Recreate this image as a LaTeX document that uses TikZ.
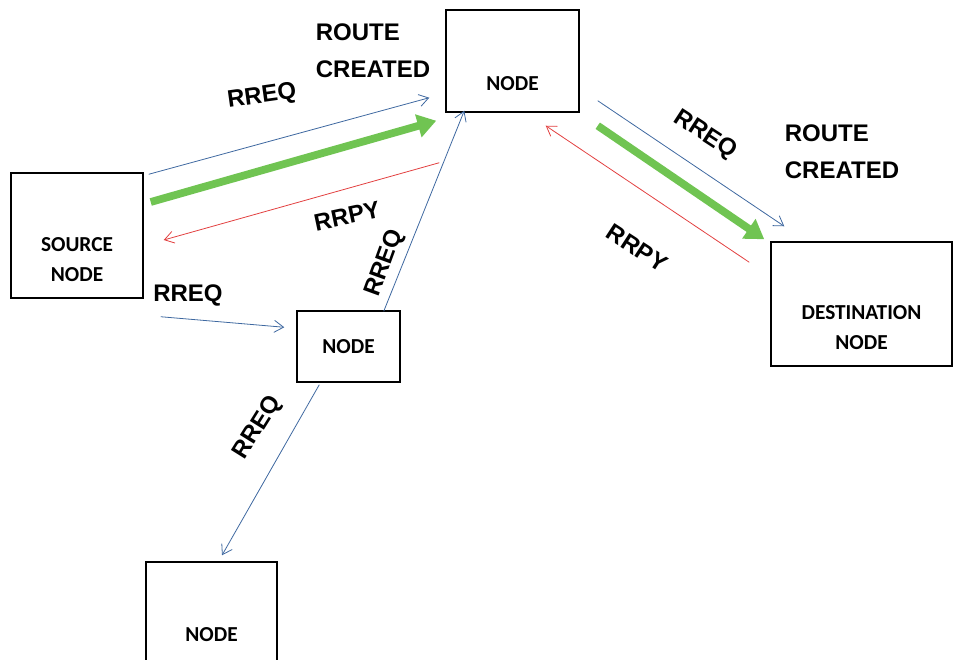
\documentclass[tikz,border=0pt]{standalone}
\usepackage{fontspec}
\setmainfont{Liberation Sans}
\newfontfamily\boxfont{Carlito}
\usetikzlibrary{arrows.meta,calc}

\definecolor{reqblue}{RGB}{62,104,160}
\definecolor{rpyred}{RGB}{226,64,64}
\definecolor{routegreen}{RGB}{112,196,82}

\tikzset{
    box/.style={draw, line width=1.1pt, inner sep=0pt},
    boxtext/.style={font=\boxfont\bfseries\fontsize{16}{22.5}\selectfont, align=center},
    msg/.style={font=\bfseries\fontsize{18}{27.75}\selectfont, align=left, inner sep=0pt},
    req/.style={draw=reqblue, line width=0.6pt, -{Straight Barb[length=7pt,width=9pt]}},
    rpy/.style={draw=rpyred, line width=0.6pt, -{Straight Barb[length=7pt,width=9pt]}},
    route/.style={draw=routegreen, line width=5.8pt, -{Triangle[length=14pt,width=17pt]}}
}

\begin{document}
\begin{tikzpicture}[x=0.75pt, y=-0.75pt]
    \useasboundingbox (0,0) rectangle (954,660);

    \node[box, minimum width=99pt, minimum height=93.75pt,
	label={[boxtext, yshift=-18pt]center:SOURCE\\NODE}] (src) at (77,235.5) {};
    \node[box, minimum width=99.75pt, minimum height=76.5pt,
	label={[boxtext, yshift=-17pt]center:NODE}] (top) at (512.5,61) {};
    \node[box, minimum width=77.25pt, minimum height=53.25pt,
	label={[boxtext]center:NODE}] (mid) at (348.5,346.5) {};
    \node[box, minimum width=135.75pt, minimum height=93pt,
	label={[boxtext, yshift=-18pt]center:DESTINATION\\NODE}] (dst) at (861.5,304) {};
    \node[box, minimum width=98.25pt, minimum height=82.5pt,
	label={[boxtext, yshift=-13pt]center:NODE}] (bot) at (211.5,617) {};

    \draw[req] ($(src.north east)+(5,2)$) -- ($(top.south west)+(-16,-15)$);
    \draw[route] ($(src.east)+(7,-33.5)$) -- ($(top.south west)+(-9,8)$);
    \draw[rpy] ($(top.south west)+(-6,50)$) -- ($(src.east)+(20,4.5)$);
    \draw[req] ($(src.south east)+(17,18)$) -- ($(mid.north west)+(-12,17)$);
    \draw[req] ($(mid.north east)+(-17,1)$) -- ($(top.south west)+(19,-2)$);
    \draw[req] ($(mid.south west)+(23,2)$) -- ($(bot.north)+(10.5,-6)$);
    \draw[req] ($(top.south east)+(18,-12)$) -- ($(dst.north west)+(14,-15)$);
    \draw[route] ($(top.south east)+(18,13)$) -- ($(dst.north west)+(-6,-2)$);
    \draw[rpy] ($(dst.north west)+(-21,21)$) -- ($(top.south east)+(-34,13)$);

    \node[msg] (routeA) at (373,51) {ROUTE\\CREATED};
    \node[msg] (routeB) at (842,152) {ROUTE\\CREATED};
    \node[msg, rotate=8] (reqA) at (262,97) {RREQ};
    \node[msg, rotate=12] (rpyA) at (347,216) {RRPY};
    \node[msg, rotate=70] (reqB) at (385,263) {RREQ};
    \node[msg] (reqC) at (188,295) {RREQ};
    \node[msg, rotate=58] (reqD) at (258,428) {RREQ};
    \node[msg, rotate=-33] (reqE) at (705,135) {RREQ};
    \node[msg, rotate=-33] (rpyB) at (637,248) {RRPY};
\end{tikzpicture}
\end{document}
